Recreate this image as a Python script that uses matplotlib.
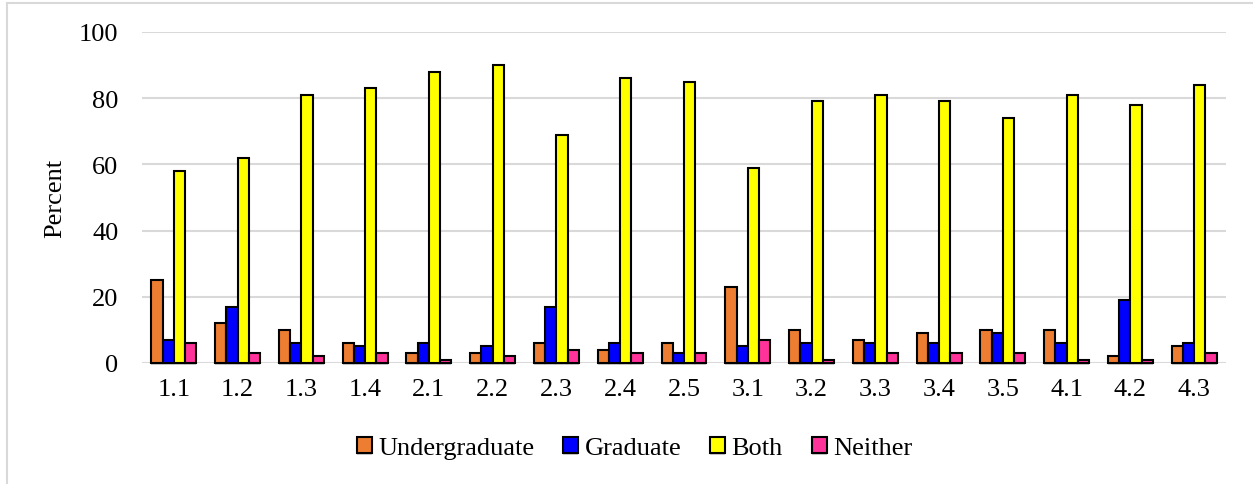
import matplotlib.pyplot as plt
import matplotlib.patheffects as pe
from matplotlib.lines import Line2D
import numpy as np

categories = ['1.1', '1.2', '1.3', '1.4', '2.1', '2.2', '2.3', '2.4', '2.5',
              '3.1', '3.2', '3.3', '3.4', '3.5', '4.1', '4.2', '4.3']
undergraduate = [25, 12, 10, 6, 3, 3, 6, 4, 6, 23, 10, 7, 9, 10, 10, 2, 5]
graduate = [7, 17, 6, 5, 6, 5, 17, 6, 3, 5, 6, 6, 6, 9, 6, 19, 6]
both = [58, 62, 81, 83, 88, 90, 69, 86, 85, 59, 79, 81, 79, 74, 81, 78, 84]
neither = [6, 3, 2, 3, 1, 2, 4, 3, 3, 7, 1, 3, 3, 3, 1, 1, 3]
y_ticks = [0, 20, 40, 60, 80, 100]

plt.rcParams['font.family'] = ['Liberation Serif', 'DejaVu Serif']
FS = 19

fig = plt.figure(figsize=(12.53, 4.85), dpi=100)
ax = fig.add_axes([0.1133, 0.2495, 0.8652, 0.6825])

series = [('Undergraduate', undergraduate, '#ED7D31'),
          ('Graduate', graduate, '#0000FF'),
          ('Both', both, '#FFFF00'),
          ('Neither', neither, '#FF3399')]
x = np.arange(len(categories))
w = 0.176
shadow = [pe.SimplePatchShadow(offset=(0, -1.5), shadow_rgbFace='#999999', alpha=0.5), pe.Normal()]
for i, (name, vals, col) in enumerate(series):
    bars = ax.bar(x + (i - 1.5) * w, vals, w, color=col, edgecolor='black',
                  linewidth=1.5, label=name, zorder=3)
    for b in bars:
        b.set_clip_on(False)
        b.set_path_effects(shadow)

ax.set_xlim(-0.5, len(categories) - 0.5)
ax.set_ylim(0, 100)
ax.set_yticks(y_ticks)
ax.set_xticks(x)
ax.set_xticklabels(categories)
ax.grid(axis='y', color='#d9d9d9', linewidth=1.5, zorder=0)
ax.set_axisbelow(True)
for s in ax.spines.values():
    s.set_visible(False)
ax.tick_params(axis='both', length=0, labelsize=FS)
ax.tick_params(axis='y', pad=17)
ax.tick_params(axis='x', pad=11)
ax.set_ylabel('Percent', fontsize=FS, labelpad=9)

fig.legend(loc='center', bbox_to_anchor=(0.5064, 0.074), ncol=4, frameon=False,
           fontsize=FS, handlelength=0.57, handleheight=0.57, handletextpad=0.23,
           columnspacing=1.1, borderaxespad=0)

# outer chart frame (left and top edges visible)
fig.add_artist(Line2D([7 / 1253, 7 / 1253], [0, 1 - 4 / 485], color='#d9d9d9', linewidth=1.5))
fig.add_artist(Line2D([7 / 1253, 1], [1 - 4 / 485, 1 - 4 / 485], color='#d9d9d9', linewidth=1.5))

fig.savefig('out.png', dpi=100)
